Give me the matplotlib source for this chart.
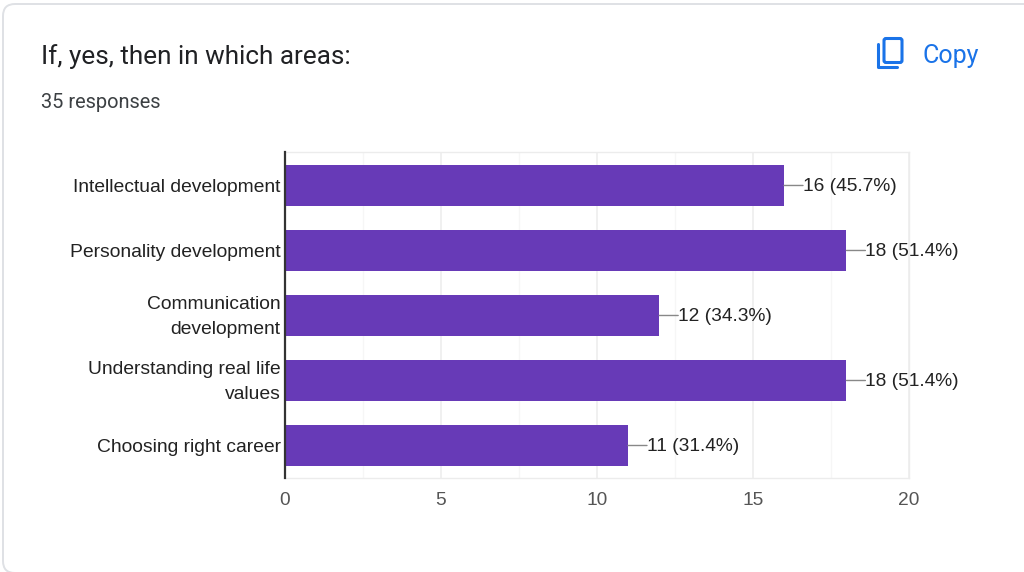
"""Google Forms style response summary: horizontal bar chart on a card."""

from matplotlib import pyplot
from matplotlib.patches import FancyBboxPatch
from matplotlib.transforms import ScaledTranslation

categories = ['Intellectual development', 'Personality development',
              'Communication\ndevelopment', 'Understanding real life\nvalues',
              'Choosing right career']
counts = [16, 18, 12, 18, 11]
percents = [45.7, 51.4, 34.3, 51.4, 31.4]
major_ticks = [0, 5, 10, 15, 20]
minor_ticks = [2.5, 7.5, 12.5, 17.5]

W, H = 1024, 572
PX = 72 / 100  # points per pixel at dpi=100

pyplot.rc('font', family=['Liberation Sans', 'DejaVu Sans'])
fig = pyplot.figure(figsize=(W / 100, H / 100), dpi=100, facecolor='white')

# Background layer in pixel coordinates for the card and the header.
bg = fig.add_axes([0, 0, 1, 1])
bg.set_xlim(0, W)
bg.set_ylim(H, 0)
bg.axis('off')
bg.add_patch(FancyBboxPatch((3, 4), 1060, 569,
                            boxstyle='round,pad=0,rounding_size=12',
                            facecolor='white', edgecolor='#dfe1e5',
                            linewidth=1.4))
bg.text(41, 57, 'If, yes, then in which areas:', family='Roboto',
        fontsize=18.85, color='#202124', va='center')
bg.text(41, 102, '35 responses', family='Roboto', fontsize=14.4,
        color='#3c4043', va='center')
bg.text(923, 55.5, 'Copy', family='Roboto', fontsize=18, color='#1a73e8',
        va='center')

# Copy icon.
bg.add_patch(FancyBboxPatch((884, 38.5), 18, 24,
                            boxstyle='round,pad=0,rounding_size=2',
                            facecolor='none', edgecolor='#1a73e8',
                            linewidth=2.2))
bg.plot([878, 878, 897], [44, 67, 67], color='#1a73e8', linewidth=2.2,
        solid_joinstyle='round', solid_capstyle='round')

# Chart axes placed on the plot area of the reference.
left, right, top, bottom = 284.8, 908.8, 152, 478
ax = fig.add_axes([left / W, 1 - bottom / H, (right - left) / W,
                   (bottom - top) / H])
ax.patch.set_alpha(0)
positions = range(len(categories))
ax.set_xlim(0, 20)
ax.set_ylim(len(categories) - 0.5, -0.515)

ax.set_axisbelow(True)
ax.set_xticks(major_ticks)
ax.set_xticks(minor_ticks, minor=True)
ax.grid(True, which='major', axis='x', color='#ececec', linewidth=1.1)
ax.grid(True, which='minor', axis='x', color='#f6f6f6', linewidth=1.0)
ax.barh(list(positions), counts, height=41 / 65, color='#673ab7')

for spine in ('top', 'right', 'bottom'):
    ax.spines[spine].set_color('#ececec')
    ax.spines[spine].set_linewidth(1.0)
ax.spines['left'].set_color('#333333')
ax.spines['left'].set_linewidth(1.6)
ax.spines['left'].set_zorder(5)

ax.set_yticks(list(positions), categories)
ax.tick_params(axis='y', which='both', length=0, pad=3, labelsize=13.9,
               labelcolor='#222222')
ax.tick_params(axis='x', which='both', length=0, pad=10, labelsize=13.8,
               labelcolor='#555555')

# Wrapped labels sit a little high, centred on the bar in the browser layout.
shift = ScaledTranslation(0, 4.5 / 100, fig.dpi_scale_trans)
for label in ax.get_yticklabels():
    label.set_linespacing(1.6)
    if '\n' in label.get_text():
        label.set_transform(label.get_transform() + shift)

# Leader lines and value labels.
for i, (count, percent) in enumerate(zip(counts, percents)):
    ax.annotate('', xy=(count, i), xytext=(19 * PX, 0),
                textcoords='offset points',
                xycoords='data',
                arrowprops=dict(arrowstyle='-', color='#888888', linewidth=1.0,
                                shrinkA=0, shrinkB=0))
    ax.annotate(f'{count} ({percent}%)', xy=(count, i),
                xytext=(19 * PX, -1), textcoords='offset points', va='center',
                ha='left', fontsize=13.8, color='#222222')

fig.savefig('out.png', dpi=100)
